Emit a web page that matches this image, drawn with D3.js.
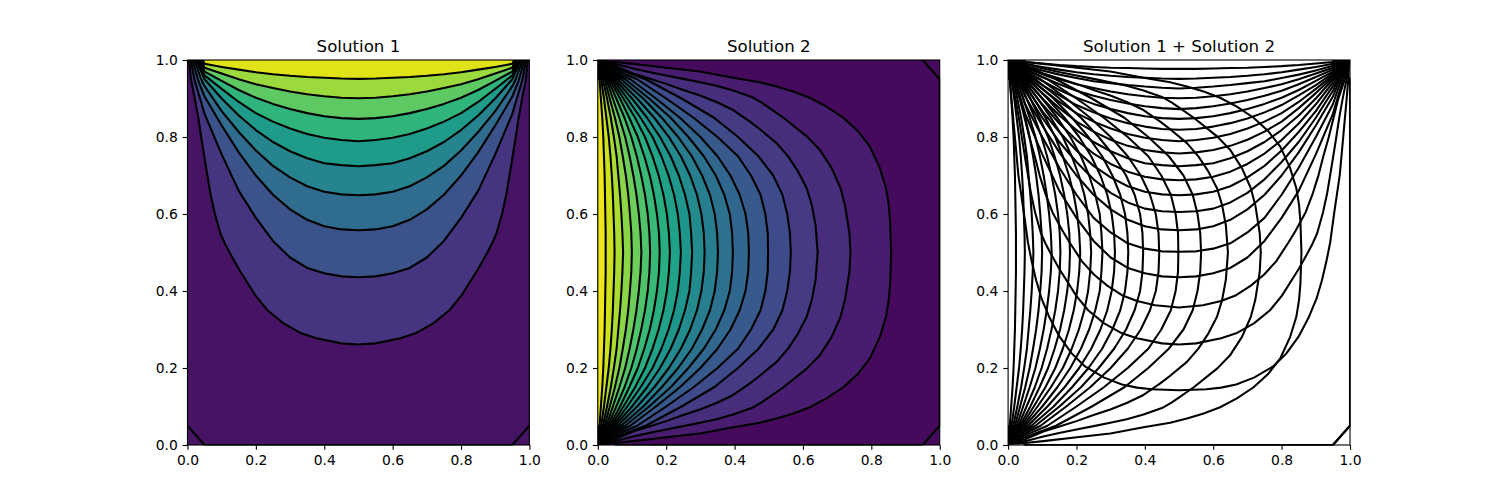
<!DOCTYPE html>
<html>
<head>
<meta charset="utf-8">
<script src="https://d3js.org/d3.v7.min.js"></script>
<style>
  body { margin: 0; background: #fff; }
  svg { display: block; }
  text { font-family: "DejaVu Sans", sans-serif; fill: #000; }
</style>
</head>
<body>
<svg id="chart" width="1500" height="500"></svg>
<script>
// Values

const titles = ["Solution 1", "Solution 2", "Solution 1 + Solution 2"];
const tickValues = [0, 0.2, 0.4, 0.6, 0.8, 1];

const s1Levels = [0, 0.1, 0.2, 0.3, 0.4, 0.5, 0.6, 0.7, 0.8, 0.9, 1];
const s2Levels = [0, 0.05, 0.1, 0.15, 0.2, 0.25, 0.3, 0.35, 0.4, 0.45, 0.5, 0.55, 0.6, 0.65, 0.7, 0.75, 0.8, 0.85, 0.9, 0.95, 1];

// contour lines for the interior levels, [x, y]
const s1Lines = [
  [[.005,1],[.01,.95],[.022,.897],[.032,.847],[.04,.8],[.049,.75],[.058,.701],[.067,.653],[.079,.604],[.096,.55],[.11,.522],[.1255,.496],[.15,.457],[.199,.388],[.234,.35],[.281,.316],[.333,.29],[.377,.277],[.45,.264],[.5,.261],[.55,.264],[.623,.277],[.667,.29],[.719,.316],[.766,.35],[.801,.388],[.85,.457],[.8745,.496],[.89,.522],[.904,.55],[.921,.604],[.933,.653],[.942,.701],[.951,.75],[.96,.8],[.968,.847],[.978,.897],[.99,.95],[.995,1]],
  [[.01,1],[.02,.95],[.05,.86],[.1,.755],[.15,.66],[.2,.59],[.25,.53],[.3,.487],[.35,.46],[.4,.446],[.45,.438],[.5,.4355],[.55,.438],[.6,.446],[.65,.46],[.7,.487],[.75,.53],[.8,.59],[.85,.66],[.9,.755],[.95,.86],[.98,.95],[.99,1]],
  [[.015,1],[.03,.95],[.05,.905],[.1,.83],[.15,.76],[.2,.7],[.25,.65],[.3,.612],[.35,.585],[.4,.568],[.45,.56],[.5,.558],[.55,.56],[.6,.568],[.65,.585],[.7,.612],[.75,.65],[.8,.7],[.85,.76],[.9,.83],[.95,.905],[.97,.95],[.985,1]],
  [[.02,1],[.04,.95],[.05,.932],[.1,.867],[.15,.813],[.2,.765],[.25,.725],[.3,.695],[.35,.672],[.4,.658],[.45,.651],[.5,.6485],[.55,.651],[.6,.658],[.65,.672],[.7,.695],[.75,.725],[.8,.765],[.85,.813],[.9,.867],[.95,.932],[.96,.95],[.98,1]],
  [[.025,1],[.05,.95],[.1,.9],[.15,.856],[.2,.818],[.25,.787],[.3,.763],[.35,.745],[.4,.732],[.45,.727],[.5,.724],[.55,.727],[.6,.732],[.65,.745],[.7,.763],[.75,.787],[.8,.818],[.85,.856],[.9,.9],[.95,.95],[.975,1]],
  [[.03,1],[.05,.96],[.1,.925],[.15,.891],[.2,.862],[.25,.84],[.3,.822],[.35,.808],[.4,.798],[.45,.792],[.5,.789],[.55,.792],[.6,.798],[.65,.808],[.7,.822],[.75,.84],[.8,.862],[.85,.891],[.9,.925],[.95,.96],[.97,1]],
  [[.035,1],[.05,.97],[.1,.946],[.15,.922],[.2,.902],[.25,.886],[.3,.873],[.35,.862],[.4,.854],[.45,.849],[.5,.847],[.55,.849],[.6,.854],[.65,.862],[.7,.873],[.75,.886],[.8,.902],[.85,.922],[.9,.946],[.95,.97],[.965,1]],
  [[.04,1],[.05,.98],[.1,.965],[.15,.95],[.2,.937],[.25,.927],[.3,.918],[.35,.911],[.4,.906],[.45,.902],[.5,.9005],[.55,.902],[.6,.906],[.65,.911],[.7,.918],[.75,.927],[.8,.937],[.85,.95],[.9,.965],[.95,.98],[.96,1]],
  [[.045,1],[.05,.99],[.1,.982],[.15,.975],[.2,.968],[.25,.963],[.3,.959],[.35,.956],[.4,.954],[.45,.952],[.5,.951],[.55,.952],[.6,.954],[.65,.956],[.7,.959],[.75,.963],[.8,.968],[.85,.975],[.9,.982],[.95,.99],[.955,1]]
];

// the third panel also shows Solution 1 at the levels in between
const s1FineLines = [
  [[.0025,1],[.005,.95],[.01,.897],[.02,.7985],[.03,.701],[.046,.604],[.058,.526],[.069,.477],[.082,.428],[.098,.38],[.121,.331],[.15,.282],[.186,.238],[.225,.204],[.281,.175],[.333,.157],[.377,.149],[.42,.145],[.5,.142],[.58,.145],[.623,.149],[.667,.157],[.719,.175],[.775,.204],[.814,.238],[.85,.282],[.879,.331],[.902,.38],[.918,.428],[.931,.477],[.942,.526],[.954,.604],[.97,.701],[.98,.7985],[.99,.897],[.995,.95],[.9975,1]],
  [[.0075,1],[.015,.95],[.035,.897],[.049,.847],[.062,.8],[.078,.75],[.092,.701],[.109,.653],[.13,.604],[.16,.555],[.18,.526],[.216,.477],[.251,.443],[.29,.414],[.333,.389],[.377,.374],[.43,.363],[.5,.357],[.57,.363],[.623,.374],[.667,.389],[.71,.414],[.749,.443],[.784,.477],[.82,.526],[.84,.555],[.87,.604],[.891,.653],[.908,.701],[.922,.75],[.938,.8],[.951,.847],[.965,.897],[.985,.95],[.9925,1]],
  [[.0125,1],[.025,.95],[.05,.885],[.1,.8],[.15,.72],[.2,.65],[.25,.59],[.3,.552],[.35,.524],[.4,.51],[.45,.503],[.5,.502],[.55,.503],[.6,.51],[.65,.524],[.7,.552],[.75,.59],[.8,.65],[.85,.72],[.9,.8],[.95,.885],[.975,.95],[.9875,1]],
  [[.0175,1],[.035,.95],[.05,.92],[.1,.85],[.15,.787],[.2,.735],[.25,.69],[.3,.655],[.35,.63],[.4,.614],[.45,.607],[.5,.605],[.55,.607],[.6,.614],[.65,.63],[.7,.655],[.75,.69],[.8,.735],[.85,.787],[.9,.85],[.95,.92],[.965,.95],[.9825,1]],
  [[.0225,1],[.045,.95],[.05,.942],[.1,.885],[.15,.835],[.2,.792],[.25,.757],[.3,.73],[.35,.71],[.4,.697],[.45,.69],[.5,.6875],[.55,.69],[.6,.697],[.65,.71],[.7,.73],[.75,.757],[.8,.792],[.85,.835],[.9,.885],[.95,.942],[.955,.95],[.9775,1]],
  [[.0275,1],[.05,.955],[.1,.914],[.15,.875],[.2,.84],[.25,.814],[.3,.793],[.35,.777],[.4,.766],[.45,.76],[.5,.757],[.55,.76],[.6,.766],[.65,.777],[.7,.793],[.75,.814],[.8,.84],[.85,.875],[.9,.914],[.95,.955],[.9725,1]],
  [[.0325,1],[.05,.965],[.1,.935],[.15,.908],[.2,.883],[.25,.864],[.3,.848],[.35,.836],[.4,.827],[.45,.821],[.5,.819],[.55,.821],[.6,.827],[.65,.836],[.7,.848],[.75,.864],[.8,.883],[.85,.908],[.9,.935],[.95,.965],[.9675,1]],
  [[.0375,1],[.05,.975],[.1,.956],[.15,.937],[.2,.92],[.25,.907],[.3,.896],[.35,.887],[.4,.88],[.45,.875],[.5,.8725],[.55,.875],[.6,.88],[.65,.887],[.7,.896],[.75,.907],[.8,.92],[.85,.937],[.9,.956],[.95,.975],[.9625,1]],
  [[.0425,1],[.05,.985],[.1,.973],[.15,.962],[.2,.953],[.25,.945],[.3,.94],[.35,.935],[.4,.931],[.45,.928],[.5,.926],[.55,.928],[.6,.931],[.65,.935],[.7,.94],[.75,.945],[.8,.953],[.85,.962],[.9,.973],[.95,.985],[.9575,1]],
  [[.0475,1],[.05,.995],[.1,.991],[.15,.987],[.2,.984],[.25,.982],[.3,.98],[.35,.979],[.4,.978],[.45,.977],[.5,.977],[.55,.977],[.6,.978],[.65,.979],[.7,.98],[.75,.982],[.8,.984],[.85,.987],[.9,.991],[.95,.995],[.9525,1]]
];

const s2Lines = [
  [[0,.0025],[.05,.005],[.103,.01],[.2015,.02],[.299,.03],[.396,.046],[.474,.058],[.523,.069],[.572,.082],[.62,.098],[.669,.121],[.718,.15],[.762,.186],[.796,.225],[.825,.281],[.843,.333],[.851,.377],[.855,.42],[.858,.5],[.855,.58],[.851,.623],[.843,.667],[.825,.719],[.796,.775],[.762,.814],[.718,.85],[.669,.879],[.62,.902],[.572,.918],[.523,.931],[.474,.942],[.396,.954],[.299,.97],[.2015,.98],[.103,.99],[.05,.995],[0,.9975]],
  [[0,.005],[.05,.01],[.103,.022],[.1526,.032],[.2,.04],[.25,.049],[.299,.058],[.347,.067],[.396,.079],[.45,.096],[.478,.11],[.5036,.1255],[.543,.15],[.612,.199],[.65,.234],[.684,.281],[.71,.333],[.723,.377],[.736,.45],[.739,.5],[.736,.55],[.723,.623],[.71,.667],[.684,.719],[.65,.766],[.612,.801],[.543,.85],[.5036,.8745],[.478,.89],[.45,.904],[.396,.921],[.347,.933],[.299,.942],[.25,.951],[.2,.96],[.1526,.968],[.103,.978],[.05,.99],[0,.995]],
  [[0,.0075],[.05,.015],[.103,.035],[.1526,.049],[.2,.062],[.25,.078],[.299,.092],[.347,.109],[.396,.13],[.445,.16],[.474,.18],[.523,.216],[.557,.251],[.586,.29],[.611,.333],[.626,.377],[.637,.43],[.643,.5],[.637,.57],[.626,.623],[.611,.667],[.586,.71],[.557,.749],[.523,.784],[.474,.82],[.445,.84],[.396,.87],[.347,.891],[.299,.908],[.25,.922],[.2,.938],[.1526,.951],[.103,.965],[.05,.985],[0,.9925]],
  [[0,.01],[.05,.02],[.14,.05],[.245,.1],[.34,.15],[.41,.2],[.47,.25],[.513,.3],[.54,.35],[.554,.4],[.562,.45],[.5645,.5],[.562,.55],[.554,.6],[.54,.65],[.513,.7],[.47,.75],[.41,.8],[.34,.85],[.245,.9],[.14,.95],[.05,.98],[0,.99]],
  [[0,.0125],[.05,.025],[.115,.05],[.2,.1],[.28,.15],[.35,.2],[.41,.25],[.448,.3],[.476,.35],[.49,.4],[.497,.45],[.498,.5],[.497,.55],[.49,.6],[.476,.65],[.448,.7],[.41,.75],[.35,.8],[.28,.85],[.2,.9],[.115,.95],[.05,.975],[0,.9875]],
  [[0,.015],[.05,.03],[.095,.05],[.17,.1],[.24,.15],[.3,.2],[.35,.25],[.388,.3],[.415,.35],[.432,.4],[.44,.45],[.442,.5],[.44,.55],[.432,.6],[.415,.65],[.388,.7],[.35,.75],[.3,.8],[.24,.85],[.17,.9],[.095,.95],[.05,.97],[0,.985]],
  [[0,.0175],[.05,.035],[.08,.05],[.15,.1],[.213,.15],[.265,.2],[.31,.25],[.345,.3],[.37,.35],[.386,.4],[.393,.45],[.395,.5],[.393,.55],[.386,.6],[.37,.65],[.345,.7],[.31,.75],[.265,.8],[.213,.85],[.15,.9],[.08,.95],[.05,.965],[0,.9825]],
  [[0,.02],[.05,.04],[.068,.05],[.133,.1],[.187,.15],[.235,.2],[.275,.25],[.305,.3],[.328,.35],[.342,.4],[.349,.45],[.3515,.5],[.349,.55],[.342,.6],[.328,.65],[.305,.7],[.275,.75],[.235,.8],[.187,.85],[.133,.9],[.068,.95],[.05,.96],[0,.98]],
  [[0,.0225],[.05,.045],[.058,.05],[.115,.1],[.165,.15],[.208,.2],[.243,.25],[.27,.3],[.29,.35],[.303,.4],[.31,.45],[.3125,.5],[.31,.55],[.303,.6],[.29,.65],[.27,.7],[.243,.75],[.208,.8],[.165,.85],[.115,.9],[.058,.95],[.05,.955],[0,.9775]],
  [[0,.025],[.05,.05],[.1,.1],[.144,.15],[.182,.2],[.213,.25],[.237,.3],[.255,.35],[.268,.4],[.273,.45],[.276,.5],[.273,.55],[.268,.6],[.255,.65],[.237,.7],[.213,.75],[.182,.8],[.144,.85],[.1,.9],[.05,.95],[0,.975]],
  [[0,.0275],[.045,.05],[.086,.1],[.125,.15],[.16,.2],[.186,.25],[.207,.3],[.223,.35],[.234,.4],[.24,.45],[.243,.5],[.24,.55],[.234,.6],[.223,.65],[.207,.7],[.186,.75],[.16,.8],[.125,.85],[.086,.9],[.045,.95],[0,.9725]],
  [[0,.03],[.04,.05],[.075,.1],[.109,.15],[.138,.2],[.16,.25],[.178,.3],[.192,.35],[.202,.4],[.208,.45],[.211,.5],[.208,.55],[.202,.6],[.192,.65],[.178,.7],[.16,.75],[.138,.8],[.109,.85],[.075,.9],[.04,.95],[0,.97]],
  [[0,.0325],[.035,.05],[.065,.1],[.092,.15],[.117,.2],[.136,.25],[.152,.3],[.164,.35],[.173,.4],[.179,.45],[.181,.5],[.179,.55],[.173,.6],[.164,.65],[.152,.7],[.136,.75],[.117,.8],[.092,.85],[.065,.9],[.035,.95],[0,.9675]],
  [[0,.035],[.03,.05],[.054,.1],[.078,.15],[.098,.2],[.114,.25],[.127,.3],[.138,.35],[.146,.4],[.151,.45],[.153,.5],[.151,.55],[.146,.6],[.138,.65],[.127,.7],[.114,.75],[.098,.8],[.078,.85],[.054,.9],[.03,.95],[0,.965]],
  [[0,.0375],[.025,.05],[.044,.1],[.063,.15],[.08,.2],[.093,.25],[.104,.3],[.113,.35],[.12,.4],[.125,.45],[.1275,.5],[.125,.55],[.12,.6],[.113,.65],[.104,.7],[.093,.75],[.08,.8],[.063,.85],[.044,.9],[.025,.95],[0,.9625]],
  [[0,.04],[.02,.05],[.035,.1],[.05,.15],[.063,.2],[.073,.25],[.082,.3],[.089,.35],[.094,.4],[.098,.45],[.0995,.5],[.098,.55],[.094,.6],[.089,.65],[.082,.7],[.073,.75],[.063,.8],[.05,.85],[.035,.9],[.02,.95],[0,.96]],
  [[0,.0425],[.015,.05],[.027,.1],[.038,.15],[.047,.2],[.055,.25],[.06,.3],[.065,.35],[.069,.4],[.072,.45],[.074,.5],[.072,.55],[.069,.6],[.065,.65],[.06,.7],[.055,.75],[.047,.8],[.038,.85],[.027,.9],[.015,.95],[0,.9575]],
  [[0,.045],[.01,.05],[.018,.1],[.025,.15],[.032,.2],[.037,.25],[.041,.3],[.044,.35],[.046,.4],[.048,.45],[.049,.5],[.048,.55],[.046,.6],[.044,.65],[.041,.7],[.037,.75],[.032,.8],[.025,.85],[.018,.9],[.01,.95],[0,.955]],
  [[0,.0475],[.005,.05],[.009,.1],[.013,.15],[.016,.2],[.018,.25],[.02,.3],[.021,.35],[.022,.4],[.023,.45],[.023,.5],[.023,.55],[.022,.6],[.021,.65],[.02,.7],[.018,.75],[.016,.8],[.013,.85],[.009,.9],[.005,.95],[0,.9525]]
];

// the zero level where it shows against the frame
const s1Edges = [
  [[0,.05],[.05,0],[.95,0],[1,.05]]
];
const s2Edges = [
  [[.05,0],[.95,0],[1,.05],[1,.95],[.95,1]]
];

// Layout

const panelWidth = 341.9;
const panelLefts = [187.5, 597.8, 1008.1];
const panelTop = 60;
const panelBottom = 445;

const svg = d3.select("#chart");
const y = d3.scaleLinear().domain([0, 1]).range([panelBottom, panelTop]);

function drawPanel(i, fills, lines) {
  const x = d3.scaleLinear().domain([0, 1]).range([panelLefts[i], panelLefts[i] + panelWidth]);
  const line = d3.line().x(d => x(d[0])).y(d => y(d[1]));

  svg.append("clipPath").attr("id", "clip" + i)
    .append("rect")
    .attr("x", panelLefts[i])
    .attr("y", panelTop)
    .attr("width", panelWidth + 0.6)
    .attr("height", panelBottom - panelTop + 0.6);

  const plot = svg.append("g").attr("clip-path", `url(#clip${i})`);

  fills.forEach(f => {
    // base band
    plot.append("rect")
      .attr("x", panelLefts[i])
      .attr("y", panelTop)
      .attr("width", panelWidth)
      .attr("height", panelBottom - panelTop)
      .attr("fill", d3.interpolateViridis((f.levels[0] + f.levels[1]) / 2));

    plot.selectAll(null)
      .data(f.lines)
      .enter()
      .append("path")
      .attr("d", d => line(d) + "Z")
      .attr("fill", (d, k) => d3.interpolateViridis((f.levels[k + 1] + f.levels[k + 2]) / 2));
  });

  plot.selectAll(null)
    .data(lines)
    .enter()
    .append("path")
    .attr("d", line)
    .attr("fill", "none")
    .attr("stroke", "#000")
    .attr("stroke-width", 2.08)
    .attr("stroke-linejoin", "round");

  // Axes
  const xAxis = d3.axisBottom(x).tickValues(tickValues).tickFormat(d3.format(".1f")).tickSize(4.86).tickPadding(4.86).tickSizeOuter(0);
  const yAxis = d3.axisLeft(y).tickValues(tickValues).tickFormat(d3.format(".1f")).tickSize(4.86).tickPadding(4.86).tickSizeOuter(0);

  [svg.append("g").attr("transform", `translate(0,${panelBottom})`).call(xAxis),
   svg.append("g").attr("transform", `translate(${panelLefts[i]},0)`).call(yAxis)].forEach(g => {
    g.select(".domain").remove();
    g.selectAll(".tick line").attr("stroke", "#000").attr("stroke-width", 1.11);
    g.selectAll(".tick text").attr("font-size", 13.89).attr("font-family", '"DejaVu Sans"');
  });

  svg.append("rect")
    .attr("x", panelLefts[i])
    .attr("y", panelTop)
    .attr("width", panelWidth)
    .attr("height", panelBottom - panelTop)
    .attr("fill", "none")
    .attr("stroke", "#000")
    .attr("stroke-width", 1.11);

  svg.append("text")
    .attr("x", panelLefts[i] + panelWidth / 2)
    .attr("y", panelTop - 8.33)
    .attr("text-anchor", "middle")
    .attr("font-size", 16.67)
    .text(titles[i]);
}

const s1All = s1Lines.concat(s1Edges);
const s2All = s2Lines.concat(s2Edges);

drawPanel(0, [{ levels: s1Levels, lines: s1Lines }], s1All);
drawPanel(1, [{ levels: s2Levels, lines: s2Lines }], s2All);
drawPanel(2, [], s1All.concat(s1FineLines, s2All));
</script>
</body>
</html>
